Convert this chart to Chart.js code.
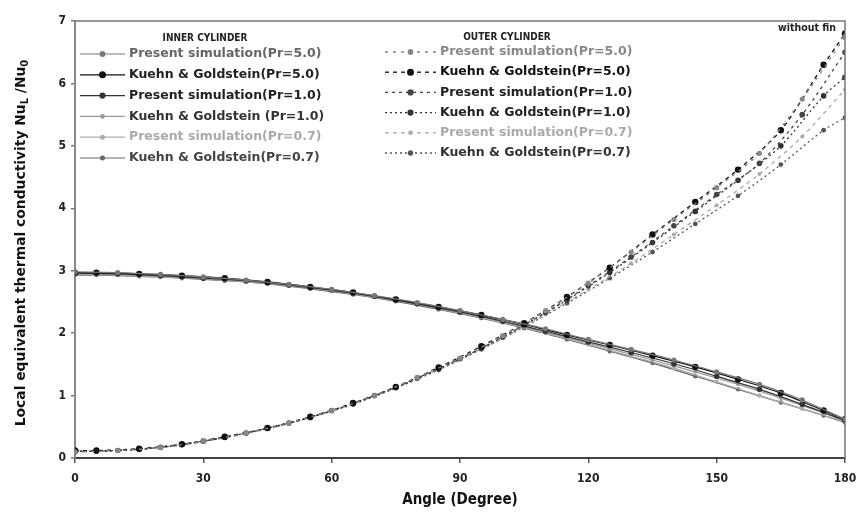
<!DOCTYPE html>
<html lang="en">
<head>
<meta charset="UTF-8">
<title>Local equivalent thermal conductivity</title>
<script src="https://cdn.jsdelivr.net/npm/chart.js"></script>
<style>
  body { margin: 0; background: #fff; }
  #wrap { width: 859px; height: 513px; }
</style>
</head>
<body>
<div id="wrap"><canvas id="grafico"></canvas></div>
<script>
// angles (degree) - simulation every 10, Kuehn & Goldstein shifted by 5
var anglesSim = [0, 10, 20, 30, 40, 50, 60, 70, 80, 90, 100, 110, 120, 130, 140, 150, 160, 170, 180];
var anglesExp = [0, 5, 15, 25, 35, 45, 55, 65, 75, 85, 95, 105, 115, 125, 135, 145, 155, 165, 175, 180];

// inner cylinder
var innerSimPr5 = [2.98, 2.97, 2.94, 2.90, 2.85, 2.78, 2.70, 2.60, 2.49, 2.36, 2.22, 2.07, 1.90, 1.74, 1.57, 1.38, 1.18, 0.93, 0.62];
var innerExpPr5 = [2.97, 2.97, 2.95, 2.92, 2.88, 2.82, 2.74, 2.65, 2.54, 2.42, 2.29, 2.14, 1.97, 1.81, 1.64, 1.46, 1.26, 1.04, 0.76, 0.62];
var innerSimPr1 = [2.96, 2.95, 2.92, 2.88, 2.84, 2.77, 2.69, 2.59, 2.47, 2.34, 2.19, 2.03, 1.86, 1.69, 1.51, 1.31, 1.10, 0.86, 0.60];
var innerExpPr1 = [2.95, 2.95, 2.93, 2.90, 2.86, 2.80, 2.72, 2.63, 2.52, 2.40, 2.26, 2.10, 1.93, 1.75, 1.57, 1.38, 1.18, 0.96, 0.72, 0.59];
var innerSimPr07 = [2.94, 2.93, 2.90, 2.87, 2.82, 2.76, 2.68, 2.58, 2.46, 2.32, 2.17, 2.00, 1.82, 1.63, 1.44, 1.22, 1.00, 0.79, 0.58];
var innerExpPr07 = [2.93, 2.93, 2.91, 2.88, 2.84, 2.79, 2.71, 2.62, 2.51, 2.38, 2.24, 2.08, 1.90, 1.71, 1.52, 1.31, 1.10, 0.89, 0.68, 0.57];

// outer cylinder
var outerSimPr5 = [0.10, 0.12, 0.17, 0.27, 0.40, 0.56, 0.76, 1.00, 1.29, 1.60, 1.96, 2.36, 2.80, 3.30, 3.82, 4.33, 4.88, 5.75, 6.75];
var outerExpPr5 = [0.12, 0.12, 0.15, 0.22, 0.34, 0.48, 0.66, 0.88, 1.14, 1.45, 1.79, 2.16, 2.58, 3.05, 3.58, 4.10, 4.62, 5.25, 6.30, 6.80];
var outerSimPr1 = [0.10, 0.12, 0.17, 0.27, 0.40, 0.56, 0.76, 1.00, 1.28, 1.59, 1.94, 2.33, 2.76, 3.22, 3.72, 4.22, 4.72, 5.50, 6.50];
var outerExpPr1 = [0.11, 0.11, 0.14, 0.22, 0.33, 0.48, 0.65, 0.87, 1.13, 1.43, 1.76, 2.13, 2.53, 2.97, 3.45, 3.95, 4.45, 5.00, 5.80, 6.10];
var outerSimPr07 = [0.10, 0.12, 0.17, 0.26, 0.39, 0.55, 0.75, 0.99, 1.27, 1.58, 1.92, 2.30, 2.70, 3.12, 3.58, 4.05, 4.55, 5.15, 5.90];
var outerExpPr07 = [0.11, 0.11, 0.14, 0.21, 0.33, 0.47, 0.65, 0.86, 1.12, 1.41, 1.74, 2.10, 2.48, 2.88, 3.30, 3.75, 4.20, 4.70, 5.25, 5.45];

var innerLabels = ['Present simulation(Pr=5.0)', 'Kuehn & Goldstein(Pr=5.0)', 'Present simulation(Pr=1.0)',
                   'Kuehn & Goldstein (Pr=1.0)', 'Present simulation(Pr=0.7)', 'Kuehn & Goldstein(Pr=0.7)'];
var outerLabels = ['Present simulation(Pr=5.0)', 'Kuehn & Goldstein(Pr=5.0)', 'Present simulation(Pr=1.0)',
                   'Kuehn & Goldstein(Pr=1.0)', 'Present simulation(Pr=0.7)', 'Kuehn & Goldstein(Pr=0.7)'];

var fonte = '"DejaVu Sans Condensed", "DejaVu Sans", sans-serif';
var fonteLegenda = '"DejaVu Sans", sans-serif';

function pontos(xs, ys) {
    var lista = [];
    for (var i = 0; i < xs.length; i++) {
        lista.push({ x: xs[i], y: ys[i] });
    }
    return lista;
}

// estilo de cada curva (cor da linha, cor do texto na legenda, tracejado, raio)
function serie(label, xs, ys, cor, corTexto, dash, raio, grupo) {
    return {
        label: label,
        data: pontos(xs, ys),
        showLine: true,
        borderColor: cor,
        backgroundColor: cor,
        borderWidth: dash.length ? 1.3 : 1.2,
        borderDash: dash,
        pointRadius: raio,
        pointBorderWidth: 0,
        tension: 0.3,
        corTexto: corTexto,
        grupo: grupo
    };
}

var datasets = [
    serie(innerLabels[0], anglesSim, innerSimPr5, '#777', '#666', [], 2.6, 'inner'),
    serie(innerLabels[1], anglesExp, innerExpPr5, '#111', '#222', [], 3.2, 'inner'),
    serie(innerLabels[2], anglesSim, innerSimPr1, '#333', '#222', [], 2.8, 'inner'),
    serie(innerLabels[3], anglesExp, innerExpPr1, '#999', '#333', [], 2, 'inner'),
    serie(innerLabels[4], anglesSim, innerSimPr07, '#aaa', '#aaa', [], 2.2, 'inner'),
    serie(innerLabels[5], anglesExp, innerExpPr07, '#666', '#444', [], 2.2, 'inner'),
    serie(outerLabels[0], anglesSim, outerSimPr5, '#888', '#888', [3, 5], 2.6, 'outer'),
    serie(outerLabels[1], anglesExp, outerExpPr5, '#111', '#111', [4, 4], 3.2, 'outer'),
    serie(outerLabels[2], anglesSim, outerSimPr1, '#444', '#222', [3, 4], 2.8, 'outer'),
    serie(outerLabels[3], anglesExp, outerExpPr1, '#333', '#222', [2, 3], 2.8, 'outer'),
    serie(outerLabels[4], anglesSim, outerSimPr07, '#aaa', '#aaa', [4, 4], 2, 'outer'),
    serie(outerLabels[5], anglesExp, outerExpPr07, '#555', '#333', [2, 3], 2.4, 'outer')
];

function textoRico(ctx, partes, x, y) {
    // partes: [texto, subscrito?]
    var pos = x;
    partes.forEach(function (p) {
        ctx.font = p[1] ? 'bold 10px ' + fonte : 'bold 14px ' + fonte;
        ctx.fillText(p[0], pos, p[1] ? y + 4 : y);
        pos += ctx.measureText(p[0]).width;
    });
    return pos - x;
}

var extras = {
    id: 'extras',
    afterDraw: function (chart) {
        var ctx = chart.ctx;
        var area = chart.chartArea;
        ctx.save();

        // moldura superior e direita
        ctx.strokeStyle = '#777';
        ctx.lineWidth = 1.5;
        ctx.beginPath();
        ctx.moveTo(area.left, area.top);
        ctx.lineTo(area.right, area.top);
        ctx.lineTo(area.right, area.bottom);
        ctx.stroke();

        // legendas
        ctx.textBaseline = 'middle';
        ctx.font = 'bold 10px ' + fonte;
        ctx.fillStyle = '#222';
        ctx.textAlign = 'center';
        ctx.fillText('INNER CYLINDER', 205, 38);
        ctx.fillText('OUTER CYLINDER', 507, 37);

        var cfg = {
            inner: { x0: 80, x1: 125, texto: 129, y: 54, passo: 20.8 },
            outer: { x0: 385, x1: 436, texto: 440, y: 52, passo: 20.2 }
        };
        var cont = { inner: 0, outer: 0 };
        chart.data.datasets.forEach(function (ds) {
            var c = cfg[ds.grupo];
            var y = c.y + cont[ds.grupo] * c.passo;
            cont[ds.grupo]++;
            ctx.strokeStyle = ds.borderColor;
            ctx.lineWidth = ds.borderWidth;
            ctx.setLineDash(ds.borderDash);
            ctx.beginPath();
            ctx.moveTo(c.x0, y);
            ctx.lineTo(c.x1, y);
            ctx.stroke();
            ctx.setLineDash([]);
            ctx.fillStyle = ds.borderColor;
            ctx.beginPath();
            ctx.arc((c.x0 + c.x1) / 2, y, ds.pointRadius + 0.3, 0, Math.PI * 2);
            ctx.fill();
            ctx.fillStyle = ds.corTexto;
            ctx.textAlign = 'left';
            ctx.font = 'bold 12.5px ' + fonteLegenda;
            ctx.fillText(ds.label, c.texto, y);
        });

        ctx.fillStyle = '#222';
        ctx.font = 'bold 10.5px ' + fonte;
        ctx.textAlign = 'right';
        ctx.fillText('without fin', 836, 28);

        // titulo eixo x
        ctx.textAlign = 'center';
        ctx.font = 'bold 15px ' + fonte;
        ctx.fillStyle = '#111';
        ctx.fillText('Angle (Degree)', 460, 500);

        // titulo eixo y, com subscritos
        var partes = [['Local equivalent thermal conductivity Nu', false], ['L', true], [' /Nu', false], ['0', true]];
        ctx.translate(21, 243);
        ctx.rotate(-Math.PI / 2);
        ctx.scale(1.1, 1);
        ctx.textAlign = 'left';
        ctx.globalAlpha = 0;
        var largura = textoRico(ctx, partes, 0, 0);
        ctx.globalAlpha = 1;
        ctx.fillStyle = '#111';
        textoRico(ctx, partes, -largura / 2, 0);
        ctx.restore();
    }
};

var config = {
    type: 'scatter',
    data: { datasets: datasets },
    options: {
        responsive: true,
        maintainAspectRatio: false,
        animation: false,
        layout: { padding: { top: 21, right: 14, left: 0, bottom: 0 } },
        plugins: {
            legend: { display: false },
            tooltip: { enabled: false }
        },
        scales: {
            x: {
                type: 'linear',
                min: 0,
                max: 180,
                afterFit: function (s) {
                    s.height = 55;
                    s.paddingLeft = 0;
                    s.paddingRight = 0;
                },
                ticks: {
                    stepSize: 30,
                    padding: 9,
                    color: '#222',
                    font: { family: fonte, size: 12, weight: 'bold' }
                },
                grid: { drawOnChartArea: false, tickLength: 5, color: '#555', lineWidth: 1.5 },
                border: { color: '#444', width: 2 }
            },
            y: {
                min: 0,
                max: 7,
                afterFit: function (s) { s.width = 75; },
                ticks: {
                    stepSize: 1,
                    padding: 5,
                    color: '#222',
                    font: { family: fonte, size: 12, weight: 'bold' }
                },
                grid: { drawOnChartArea: false, tickLength: 4, color: '#777', lineWidth: 1.5 },
                border: { color: '#888', width: 2 }
            }
        }
    },
    plugins: [extras]
};

var grafico = new Chart(document.getElementById('grafico'), config);
</script>
</body>
</html>
